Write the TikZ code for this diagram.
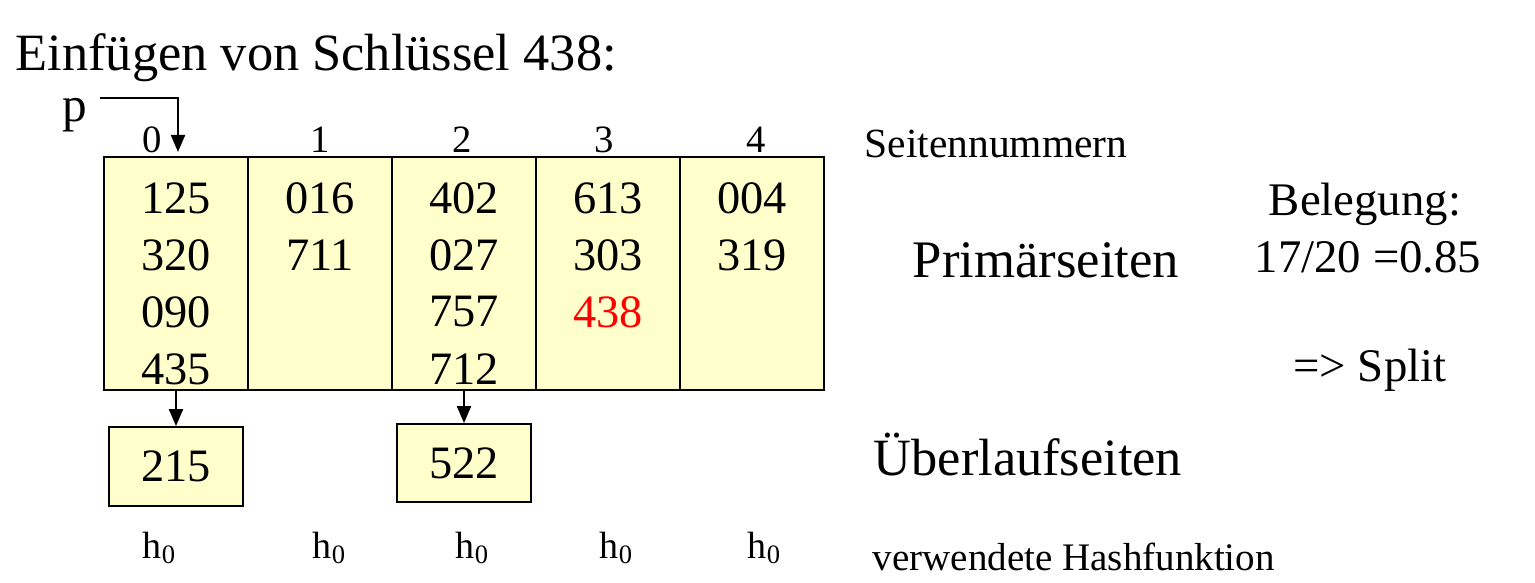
\documentclass[tikz,border=0pt]{standalone}
\usepackage{fontspec}
\setmainfont{Liberation Serif}
\usetikzlibrary{arrows.meta}
\definecolor{pagefill}{HTML}{FFFFCC}

\begin{document}
\begin{tikzpicture}[x=0.01cm, y=-0.01cm,
    page/.style={draw, fill=pagefill, line width=0.5pt, inner sep=0pt,
        minimum width=1.44cm, minimum height=2.33cm},
    overflow/.style={draw, fill=pagefill, line width=0.5pt, inner sep=0pt,
        minimum width=1.34cm, minimum height=0.79cm, font=\fontsize{13.2}{15}\selectfont},
    key/.style={inner sep=0pt, font=\fontsize{13.2}{15}\selectfont},
    small/.style={inner sep=0pt, font=\fontsize{11}{13}\selectfont},
    big/.style={inner sep=0pt, font=\fontsize{14.9}{17}\selectfont},
    ptr/.style={-{Triangle[length=0.17cm, width=0.14cm]}, line width=0.6pt}]
    \useasboundingbox (0,0) rectangle (1535,583);

    \node[big, anchor=west] (title) at (15,58) {Einfügen von Schlüssel 438:};

    % primary pages
    \foreach \i in {0,...,4}{
        \node[page] (col\i) at (176+144*\i, 273.5) {};
    }
    \foreach \i/\keys in {0/{125,320,090,435}, 1/{016,711}, 2/{402,027,757,712},
                          3/{613,303}, 4/{004,319}}{
        \foreach \k [count=\r] in \keys{
            \node[key] (k\i-\r) at (176+144*\i, 141+57*\r) {\k};
        }
    }
    \node[key, text=red] (k3-3) at (608,312) {438};

    % page numbers
    \foreach \i/\x in {0/152, 1/320, 2/462, 3/604, 4/756}{
        \node[small] (nr\i) at (\x,140) {\i};
    }

    % pointer p
    \node[key, font=\fontsize{14}{16}\selectfont] (p) at (75,115) {p};
    \coordinate (pstart) at (100,98);
    \coordinate (ptip) at (178,152);
    \draw[ptr] (pstart) -| (ptip);

    % overflow pages
    \node[overflow] (ov0) at (176,466.5) {215};
    \node[overflow, minimum height=0.78cm] (ov2) at (464,463) {522};
    \draw[ptr] (col0.south) -- (ov0.north);
    \draw[ptr] (col2.south) -- (ov2.north);

    % hash functions
    \foreach \i/\x in {0/160, 1/330, 2/473, 3/617, 4/765}{
        \node[small, font=\fontsize{10.8}{12}\selectfont] (h\i) at (\x,548) {h\textsubscript{0}};
    }

    % legend
    \node[small, font=\fontsize{11.8}{14}\selectfont, anchor=west] (seiten) at (864,144) {Seitennummern};
    \node[big, font=\fontsize{15}{18}\selectfont, anchor=west] (prim) at (912,260) {Primärseiten};
    \node[big, anchor=west] (ueber) at (873,455) {Überlaufseiten};
    \node[small, font=\fontsize{11.1}{13}\selectfont, anchor=west] (hash) at (872,557) {verwendete Hashfunktion};
    \node[key, font=\fontsize{13.3}{16}\selectfont] (beleg) at (1365,204) {Belegung:};
    \node[key, font=\fontsize{13.3}{16}\selectfont] (quote) at (1368,257) {17/20 =0.85};
    \node[key, font=\fontsize{13.3}{16}\selectfont] (split) at (1370,370) {=> Split};
\end{tikzpicture}
\end{document}
